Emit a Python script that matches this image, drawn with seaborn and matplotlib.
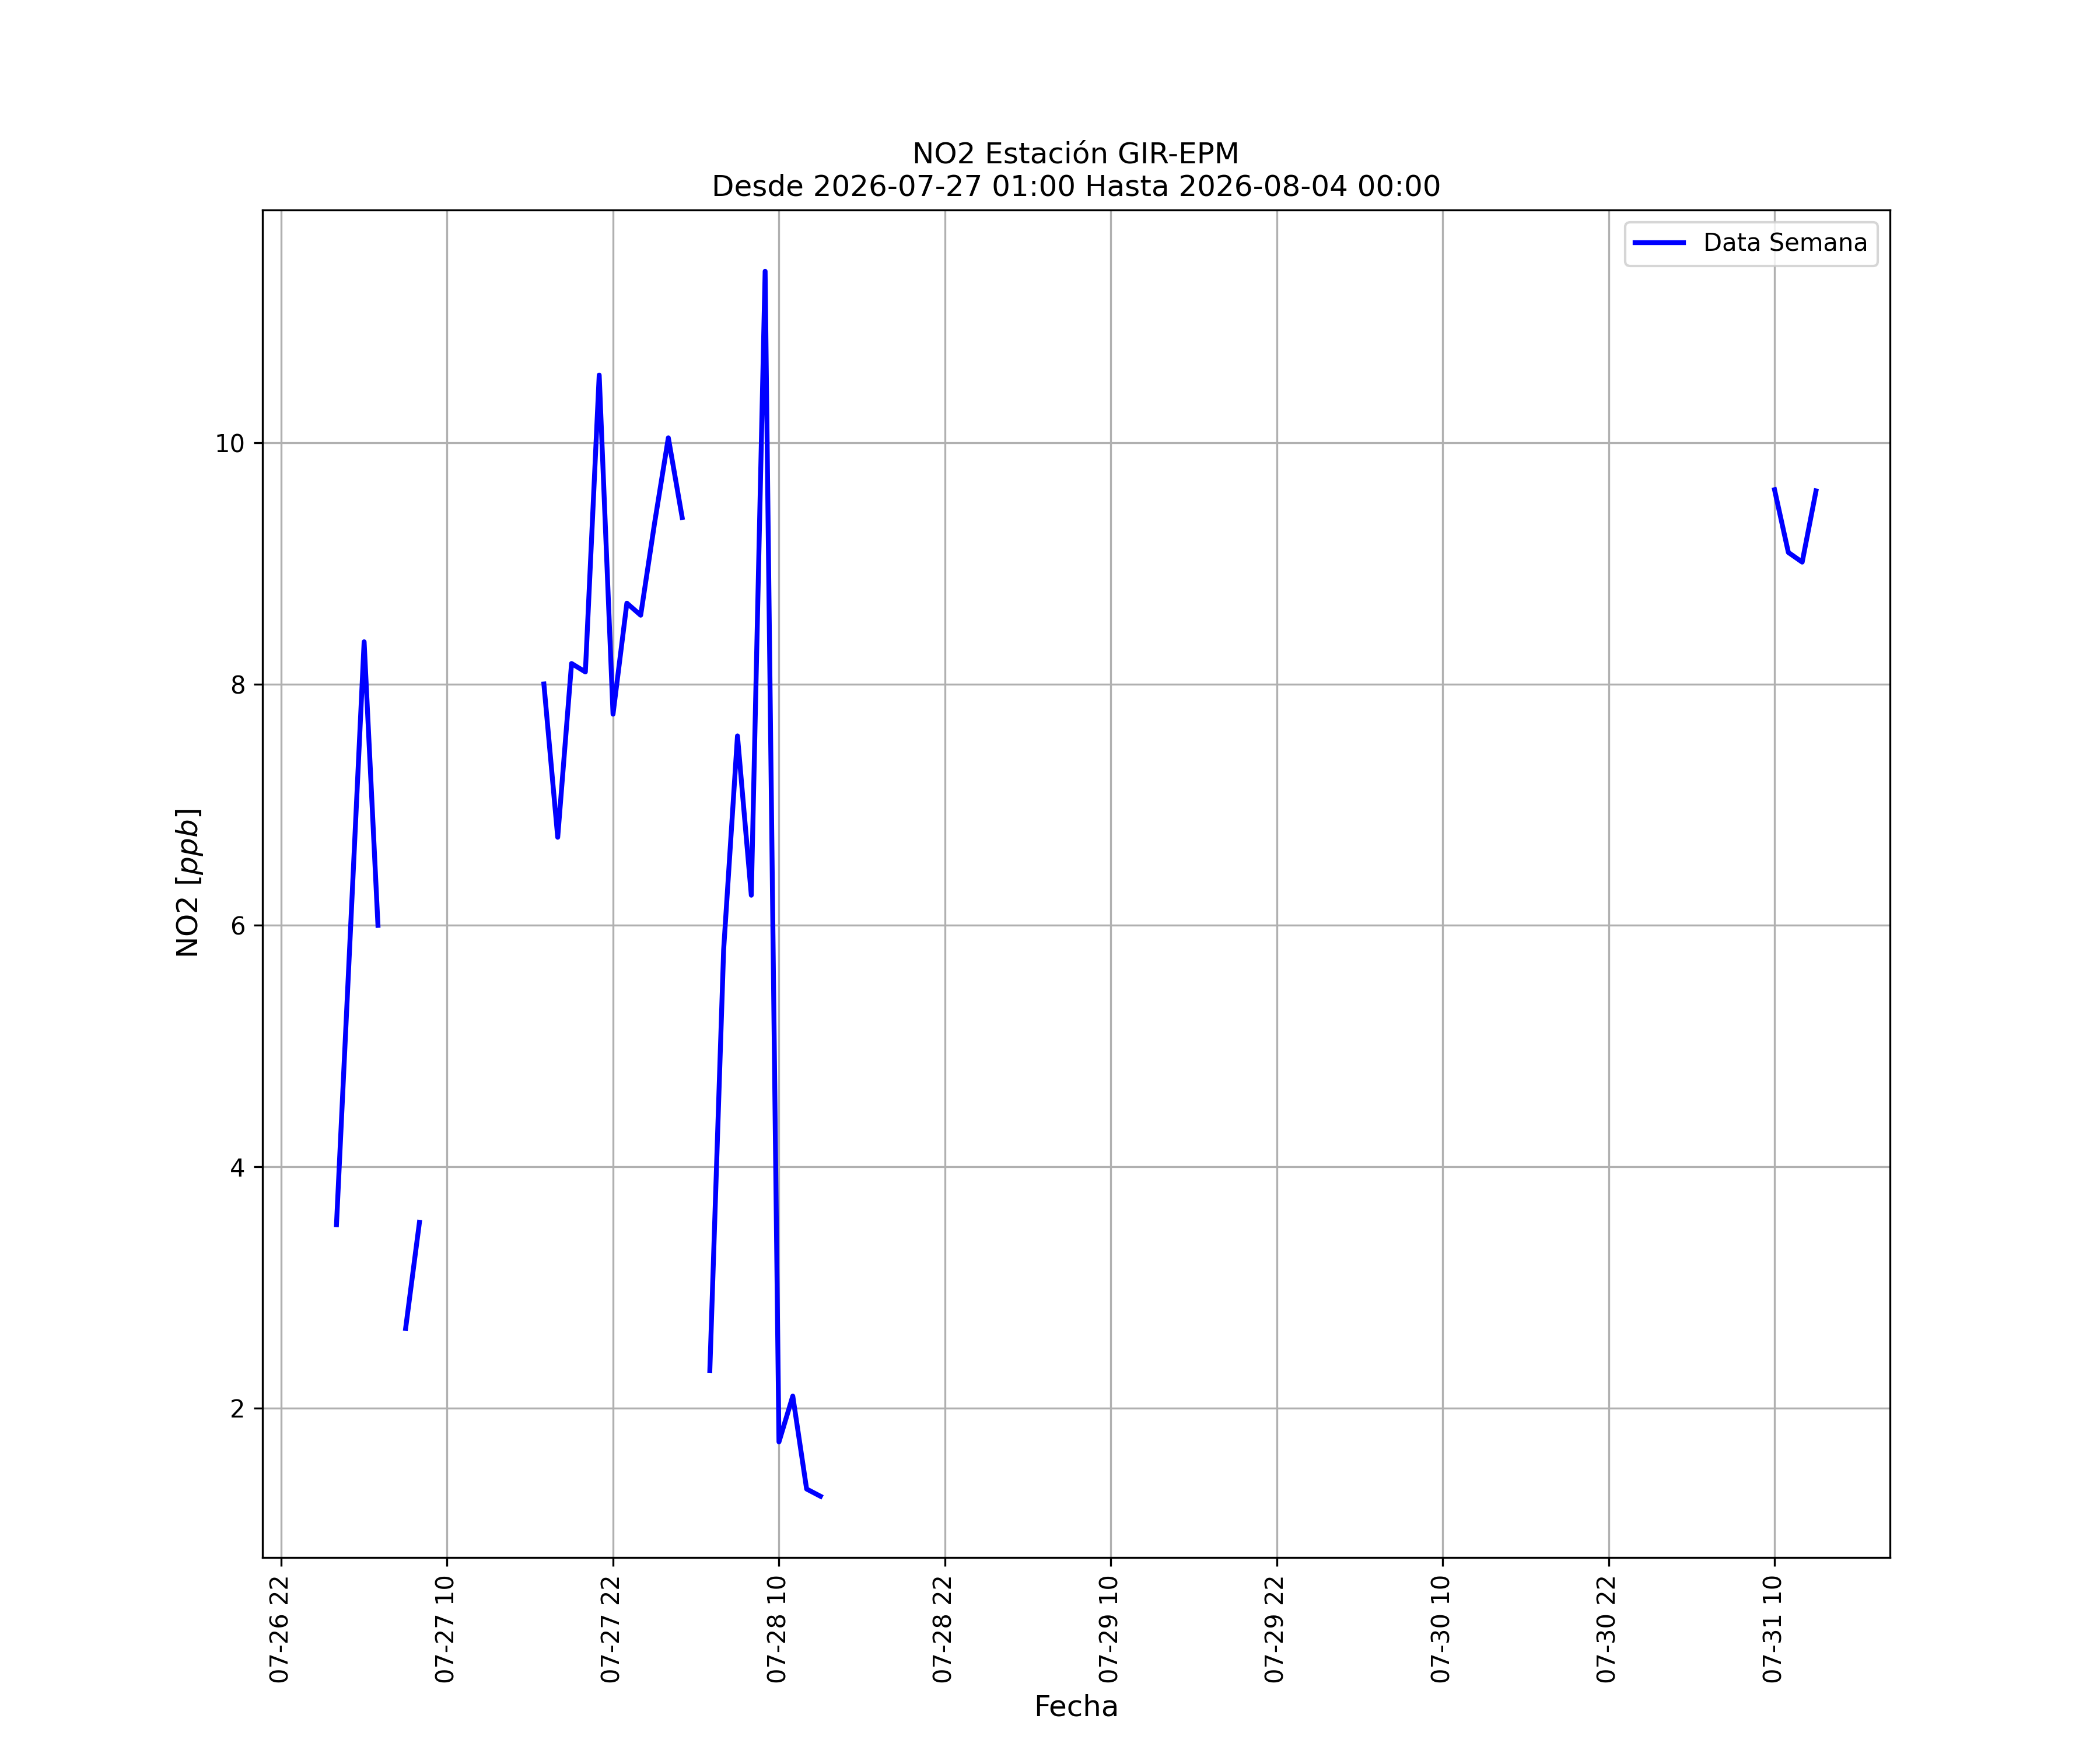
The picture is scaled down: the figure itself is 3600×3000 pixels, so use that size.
import pandas as pd
import numpy as np
import matplotlib
matplotlib.use('Agg')
import matplotlib.pyplot as plt
import matplotlib.dates as mdates
import seaborn as sns

# hourly NO2 readings, split where the station had no data
seg_start = ['2026-07-27 02:00', '2026-07-27 07:00', '2026-07-27 17:00',
             '2026-07-28 05:00', '2026-07-31 10:00']
seg_values = [
    [3.52, 5.93, 8.35, 6.00],
    [2.66, 3.54],
    [8.00, 6.73, 8.17, 8.10, 10.56, 7.75, 8.67, 8.57, 9.33, 10.04, 9.38],
    [2.31, 5.80, 7.57, 6.25, 11.42, 1.72, 2.10, 1.33, 1.27],
    [9.61, 9.09, 9.01, 9.60],
]

rows = []
for i, (start, vals) in enumerate(zip(seg_start, seg_values)):
    fechas = pd.date_range(start, periods=len(vals), freq='h')
    for f, v in zip(fechas, vals):
        rows.append({'Fecha': f, 'NO2': v, 'seg': i})
df = pd.DataFrame(rows)

fig, ax = plt.subplots(figsize=(12, 10))
sns.lineplot(data=df, x='Fecha', y='NO2', units='seg', estimator=None,
             color='blue', linewidth=2, ax=ax)

ax.legend(handles=[ax.lines[0]], labels=['Data Semana'], loc='upper right')
ax.set_title('NO2 Estación GIR-EPM\nDesde 2026-07-27 01:00 Hasta 2026-08-04 00:00', fontsize=12)
ax.set_xlabel('Fecha', fontsize=12)
ax.set_ylabel('NO2 [$ppb$]', fontsize=12)
ax.xaxis.set_major_locator(mdates.HourLocator(byhour=[10, 22]))
ax.xaxis.set_major_formatter(mdates.DateFormatter('%m-%d %H'))
plt.setp(ax.get_xticklabels(), rotation=90)
ax.grid(True)

fig.savefig('out.png', dpi=300)
